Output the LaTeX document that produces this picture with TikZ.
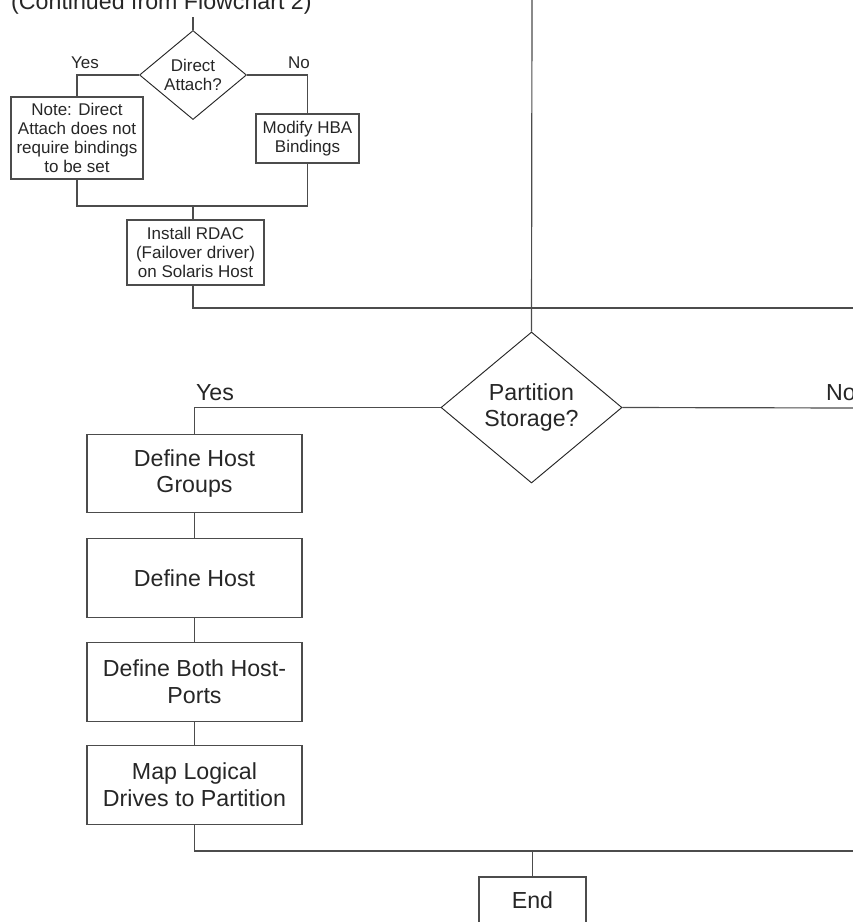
\documentclass[tikz,border=0pt]{standalone}
\usepackage{fontspec}
\setmainfont{Liberation Sans}
\usetikzlibrary{shapes.geometric}
\tikzset{
  line/.style={draw=black!70, line width=1pt},
  smalltext/.style={font=\fontsize{14.5}{16.2}\selectfont, text=black!85, align=center},
  bigtext/.style={font=\fontsize{19.8}{23}\selectfont, text=black!85, align=center},
  smallbox/.style={smalltext, rectangle, draw=black!70, line width=1pt, inner sep=0pt},
  bigbox/.style={bigtext, rectangle, draw=black!70, line width=1pt, inner sep=0pt, minimum width=6.45cm, minimum height=2.35cm},
  decision/.style={diamond, draw=black!85, line width=0.8pt, inner sep=0pt},
}

\begin{document}
\begin{tikzpicture}[x=0.03cm, y=-0.03cm]
        \useasboundingbox (0,0) rectangle (853,922);

        \node (cont) [bigtext, anchor=base west, inner sep=0pt] at (11,9) {(Continued from Flowchart 2)};
        \coordinate (top1) at (193,17);
        \node (attach) [decision, smalltext, minimum width=3.21cm, minimum height=2.64cm] at (193,75) {Direct\\Attach?};
        \node (yes1) [smalltext] at (85,63) {Yes};
        \node (no1) [smalltext] at (299,63) {No};
        \node (note) [smallbox, minimum width=3.96cm, minimum height=2.46cm] at (77,138) {Note: Direct\\Attach does not\\require bindings\\to be set};
        \node (modify) [smallbox, minimum width=3.09cm, minimum height=1.47cm] at (307.5,138.5) {Modify HBA\\Bindings};
        \coordinate (join1) at (193,206);
        \node (rdac) [smallbox, minimum width=4.11cm, minimum height=1.95cm] at (195.5,252.5) {Install RDAC\\(Failover driver)\\on Solaris Host};
        \coordinate (right1) at (853,308);

        \coordinate (top2) at (532,0);
        \node (part) [decision, bigtext, minimum width=5.43cm, minimum height=4.53cm] at (531.5,407.5) {Partition\\Storage?};
        \node (yes2) [bigtext] at (215,393) {Yes};
        \node (no2) [bigtext, anchor=west, inner sep=0pt] at (826,393) {No};
        \coordinate (right2) at (853,408);

        \node (groups) [bigbox] at (194.5,473.5) {Define Host\\Groups};
        \node (host) [bigbox] at (194.5,578) {Define Host};
        \node (ports) [bigbox] at (194.5,682) {Define Both Host-\\Ports};
        \node (map) [bigbox] at (194.5,785) {Map Logical\\Drives to Partition};
        \coordinate (right3) at (853,851);
        \node (end) [smallbox, bigtext, minimum width=3.21cm, minimum height=1.38cm] at (532.5,900) {End};

        \draw [line] (top1)--(attach.north);
        \draw [line] (attach.west) -| (note.north);
        \draw [line] (attach.east) -| (modify.north);
        \draw [line] (note.south) |- (join1) -| (modify.south);
        \draw [line] (join1)--(join1 |- rdac.north);
        \draw [line] (join1 |- rdac.south) |- (right1);

        \draw [line] (top2)--(part.north);
        \draw [line] (part.east)--(right2);
        \draw [line] (part.west) -| (groups.north);
        \draw [line] (groups.south)--(host.north);
        \draw [line] (host.south)--(ports.north);
        \draw [line] (ports.south)--(map.north);
        \draw [line] (map.south) |- (right3);
        \draw [line] (end.north)--(end.north |- right3);
\end{tikzpicture}
\end{document}
